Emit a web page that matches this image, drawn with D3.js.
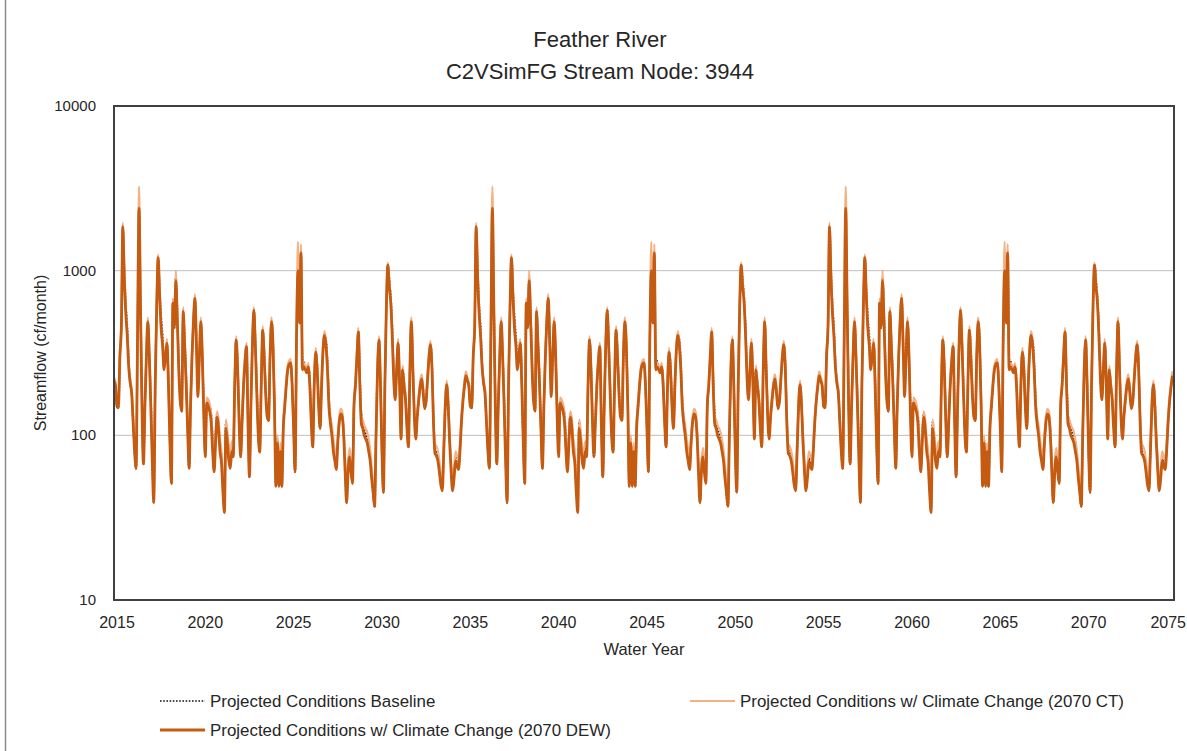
<!DOCTYPE html>
<html>
<head>
<meta charset="utf-8">
<script src="https://cdn.jsdelivr.net/npm/d3@7"></script>
<style>
  body { margin: 0; background: #fff; }
  svg text { font-family: "Liberation Sans", Arial, sans-serif; fill: #262626; }
</style>
</head>
<body>
<div id="chart"></div>
<script>
// the hydrology is a 20-year monthly sequence that the model repeats three times
const cycleStarts = [2015, 2035, 2055];

// Projected Conditions w/ Climate Change (2070 DEW), cf/month, one 20-year cycle
const dew20 = [
  215,200,150,147,300,456,1850,900,553,400,260,208,
  180,120,80,63,400,2400,600,150,67,150,300,490,
  300,150,70,39,200,600,1200,700,450,350,250,300,
  363,200,90,51,636,450,870,500,250,160,140,565,
  350,208,110,63,150,300,500,680,350,172,300,490,
  300,130,74,157,150,140,120,80,60,90,129,110,
  80,68,45,34,110,90,70,63,80,74,200,380,
  250,120,74,120,200,280,345,120,56,150,350,575,
  350,180,100,79,200,435,300,180,130,123,300,490,
  350,150,49,90,49,80,49,110,150,200,250,270,
  275,200,110,60,400,1000,480,1280,250,260,250,240,
  260,200,120,85,200,320,250,150,110,200,330,405,
  350,250,150,118,100,80,70,62,90,120,135,130,
  100,60,39,60,74,60,51,150,200,300,425,200,
  118,110,100,95,90,80,70,55,45,37,100,250,
  380,200,80,45,200,600,1080,800,636,400,220,164,
  250,363,200,95,250,200,164,110,85,250,490,250,
  130,95,130,164,200,220,180,145,160,220,300,355,
  250,120,78,75,70,60,50,46,80,150,203,150,
  90,60,46,55,70,65,62,80,120,160,197,230
];

// Projected Conditions w/ Climate Change (2070 CT)
const ct20 = [
  225,210,160,155,320,480,1950,1000,580,420,275,220,
  190,130,88,68,450,3240,650,160,72,160,320,520,
  320,160,76,42,215,640,1250,740,470,365,265,320,
  385,215,98,55,680,480,1000,530,265,170,150,600,
  370,220,118,68,160,320,530,720,370,185,320,520,
  320,140,82,170,165,155,135,95,72,100,140,125,
  95,80,55,42,125,105,85,75,92,85,215,400,
  265,130,80,130,215,300,365,130,62,160,370,600,
  370,190,108,86,215,460,320,190,140,132,320,520,
  370,160,54,100,55,90,55,120,165,215,265,285,
  290,215,120,66,440,1500,520,1450,270,275,265,255,
  275,215,130,95,215,340,265,160,120,215,350,430,
  370,265,165,130,115,95,82,72,100,130,145,140,
  112,70,45,68,84,70,60,162,215,320,450,215,
  130,124,115,110,104,94,82,65,53,43,110,265,
  400,215,88,50,215,640,1120,840,670,420,235,175,
  265,385,215,104,265,215,175,122,95,265,520,265,
  140,104,140,175,215,235,195,160,175,235,320,375,
  265,130,88,86,80,70,58,53,90,165,215,162,
  100,68,53,63,80,75,70,90,130,172,210,245
];

// Projected Conditions Baseline
const base20 = [
  215,200,150,147,300,456,1850,1000,620,450,280,208,
  180,120,80,63,400,2400,650,170,67,150,300,490,
  300,170,80,39,200,600,1200,760,520,400,290,300,
  363,220,90,51,636,450,900,560,270,170,140,565,
  380,230,110,63,150,300,500,680,380,190,300,490,
  300,150,80,157,160,150,135,95,62,100,135,115,
  90,75,50,36,120,100,80,70,86,78,200,380,
  270,130,74,120,200,280,345,135,56,150,350,575,
  380,200,105,79,200,435,330,195,135,123,300,490,
  370,160,49,95,52,85,49,115,150,200,250,270,
  275,200,110,60,400,1000,520,1280,290,280,260,240,
  260,215,125,85,200,320,270,160,110,200,330,405,
  380,280,165,125,105,85,75,64,90,120,135,130,
  105,66,39,62,80,68,53,150,200,300,425,230,
  135,118,108,102,95,85,74,58,45,37,100,250,
  380,210,80,45,200,600,1080,880,690,450,240,170,
  250,363,215,100,250,210,170,118,85,250,490,270,
  140,100,130,164,200,220,190,150,160,220,300,355,
  270,128,82,78,72,62,52,48,80,150,203,160,
  95,64,48,58,74,68,64,82,120,160,197,230
];

const xTicks = [2015, 2020, 2025, 2030, 2035, 2040, 2045, 2050, 2055, 2060, 2065, 2070, 2075];
const yTicks = [10, 100, 1000, 10000];

const width = 1187;
const height = 751;
const plotLeft = 114, plotRight = 1174, plotTop = 106, plotBottom = 600;

const svg = d3.select("#chart")
      .append("svg")
      .attr("width", width)
      .attr("height", height);

// outer frame of the figure (only the left edge falls inside the picture)
svg.append("line")
    .attr("x1", 5.5).attr("x2", 5.5)
    .attr("y1", 0).attr("y2", height)
    .attr("stroke", "#8c8c8c")
    .attr("stroke-width", 1.5);

const x = d3.scaleLinear().domain([2015, 2075]).range([plotLeft, plotRight]);
const y = d3.scaleLog().domain([10, 10000]).range([plotBottom, plotTop]);

// monthly points, repeated for each cycle
function expand(arr) {
    const out = [];
    cycleStarts.forEach(s => arr.forEach((v, i) => out.push({t: s + i / 12, v: v})));
    return out;
}

// gridlines
svg.append("g")
    .selectAll("line")
    .data(yTicks.slice(1, -1))
    .enter().append("line")
    .attr("x1", plotLeft).attr("x2", plotRight)
    .attr("y1", d => y(d)).attr("y2", d => y(d))
    .attr("stroke", "#bfbfbf")
    .attr("stroke-width", 1);

const line = d3.line()
    .x(d => x(d.t))
    .y(d => y(d.v))
    .curve(d3.curveMonotoneX);

const series = [
    {name: "Projected Conditions Baseline", data: base20, color: "#111", width: 2, dash: "1.6,1.6"},
    {name: "Projected Conditions w/ Climate Change (2070 CT)", data: ct20, color: "#f4b183", width: 2.2, dash: null},
    {name: "Projected Conditions w/ Climate Change (2070 DEW)", data: dew20, color: "#c55a11", width: 2.8, dash: null}
];

const plot = svg.append("g");
plot.selectAll("path")
    .data(series)
    .enter().append("path")
    .attr("d", d => line(expand(d.data)))
    .attr("fill", "none")
    .attr("stroke", d => d.color)
    .attr("stroke-width", d => d.width)
    .attr("stroke-dasharray", d => d.dash)
    .attr("stroke-linejoin", "round");

// plot area border
svg.append("rect")
    .attr("x", plotLeft).attr("y", plotTop)
    .attr("width", plotRight - plotLeft).attr("height", plotBottom - plotTop)
    .attr("fill", "none")
    .attr("stroke", "#404040")
    .attr("stroke-width", 2);

// axis labels
svg.append("g")
    .selectAll("text")
    .data(yTicks)
    .enter().append("text")
    .attr("x", plotLeft - 18)
    .attr("y", d => y(d) + 5)
    .attr("text-anchor", "end")
    .attr("font-size", 15)
    .text(d => d);

svg.append("g")
    .selectAll("text")
    .data(xTicks)
    .enter().append("text")
    .attr("x", d => d === 2075 ? plotRight + 12 : x(d) + 3)
    .attr("y", plotBottom + 28)
    .attr("text-anchor", d => d === 2075 ? "end" : "middle")
    .attr("font-size", 16)
    .text(d => d);

svg.append("text")
    .attr("x", 644).attr("y", 655)
    .attr("text-anchor", "middle")
    .attr("font-size", 16.5)
    .text("Water Year");

svg.append("text")
    .attr("transform", "translate(46,353) rotate(-90)")
    .attr("text-anchor", "middle")
    .attr("font-size", 16)
    .text("Streamflow (cf/month)");

// title
svg.append("text")
    .attr("x", 600).attr("y", 47)
    .attr("text-anchor", "middle")
    .attr("font-size", 22)
    .text("Feather River");
svg.append("text")
    .attr("x", 600).attr("y", 79)
    .attr("text-anchor", "middle")
    .attr("font-size", 22)
    .text("C2VSimFG Stream Node: 3944");

// legend
const legendPos = [[160, 701], [690, 701], [160, 730]];
const legend = svg.append("g")
    .selectAll("g")
    .data(series)
    .enter().append("g")
    .attr("transform", (d, i) => `translate(${legendPos[i][0]},${legendPos[i][1]})`);
legend.append("line")
    .attr("x1", 0).attr("x2", 45)
    .attr("stroke", d => d.color)
    .attr("stroke-width", d => d.dash ? 1.6 : d.width)
    .attr("stroke-dasharray", d => d.dash);
legend.append("text")
    .attr("x", 50).attr("y", 6)
    .attr("font-size", 16.9)
    .text(d => d.name);
</script>
</body>
</html>
